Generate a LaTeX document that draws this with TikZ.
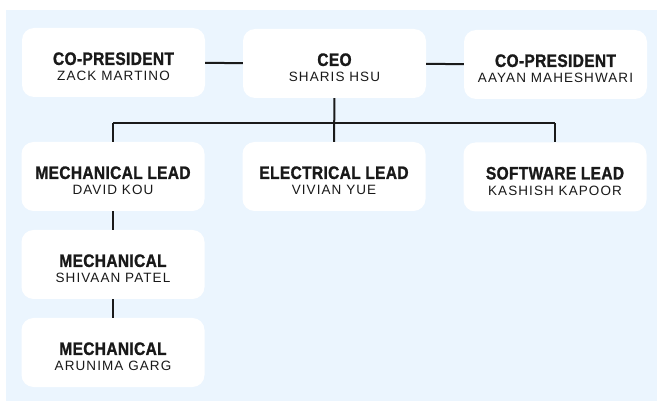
\documentclass[tikz,border=0pt]{standalone}
\usepackage{fontspec}
\usepackage{tikz}
\setmainfont{Liberation Sans}
\newfontfamily\titlefont[FakeStretch=0.86,LetterSpace=2,FakeBold=1.2]{Liberation Sans}
\newfontfamily\namefont[LetterSpace=8]{Liberation Sans}
\definecolor{bgblue}{HTML}{EBF5FE}
\definecolor{linegray}{HTML}{1A1A1A}
\newcommand{\role}[2]{{\titlefont\bfseries\fontsize{18}{16}\selectfont\rule{0pt}{21pt}#1}\\{\namefont\fontsize{13.5}{16}\selectfont #2}}

\begin{document}
\begin{tikzpicture}[x=1pt, y=-1pt,
		box_style/.style={rectangle,rounded corners=12pt,fill=white,minimum width=183pt,minimum height=69pt,inner sep=0pt,align=center,font=\fontsize{13.5}{16}\selectfont,text=black!90},
		edge_style/.style={draw=linegray,line width=2pt}]

		\useasboundingbox (0,0) rectangle (657,401);
		\fill[white] (0,0) rectangle (657,401);
		\fill[bgblue] (6,10) rectangle (657,401);

		\node[box_style] (cp_left) at (113.5,62.5)  {\role{CO-PRESIDENT}{ZACK MARTINO}};
		\node[box_style] (ceo) at (334.5,63.5)  {\role{CEO}{SHARIS HSU}};
		\node[box_style] (cp_right) at (555.5,64.5)  {\role{CO-PRESIDENT}{AAYAN MAHESHWARI}};
		\node[box_style] (mech_lead) at (113,176.5)  {\role{MECHANICAL LEAD}{DAVID KOU}};
		\node[box_style] (elec_lead) at (334,176.5)  {\role{ELECTRICAL LEAD}{VIVIAN YUE}};
		\node[box_style] (soft_lead) at (555,177)  {\role{SOFTWARE LEAD}{KASHISH KAPOOR}};
		\node[box_style] (mech_a) at (113,264.5)  {\role{MECHANICAL}{SHIVAAN PATEL}};
		\node[box_style] (mech_b) at (113,352.5)  {\role{MECHANICAL}{ARUNIMA GARG}};

		\coordinate (bus_left) at (113,123);
		\coordinate (bus_right) at (555,123);

		\draw[edge_style]  (cp_left) -- (ceo);
		\draw[edge_style]  (ceo) -- (cp_right);
		\draw[edge_style]  (ceo) -- (elec_lead);
		\draw[edge_style]  (bus_left) -- (bus_right);
		\draw[edge_style]  (bus_left) -- (mech_lead);
		\draw[edge_style]  (bus_right) -- (soft_lead);
		\draw[edge_style]  (mech_lead) -- (mech_a);
		\draw[edge_style]  (mech_a) -- (mech_b);

		\end{tikzpicture}
\end{document}
